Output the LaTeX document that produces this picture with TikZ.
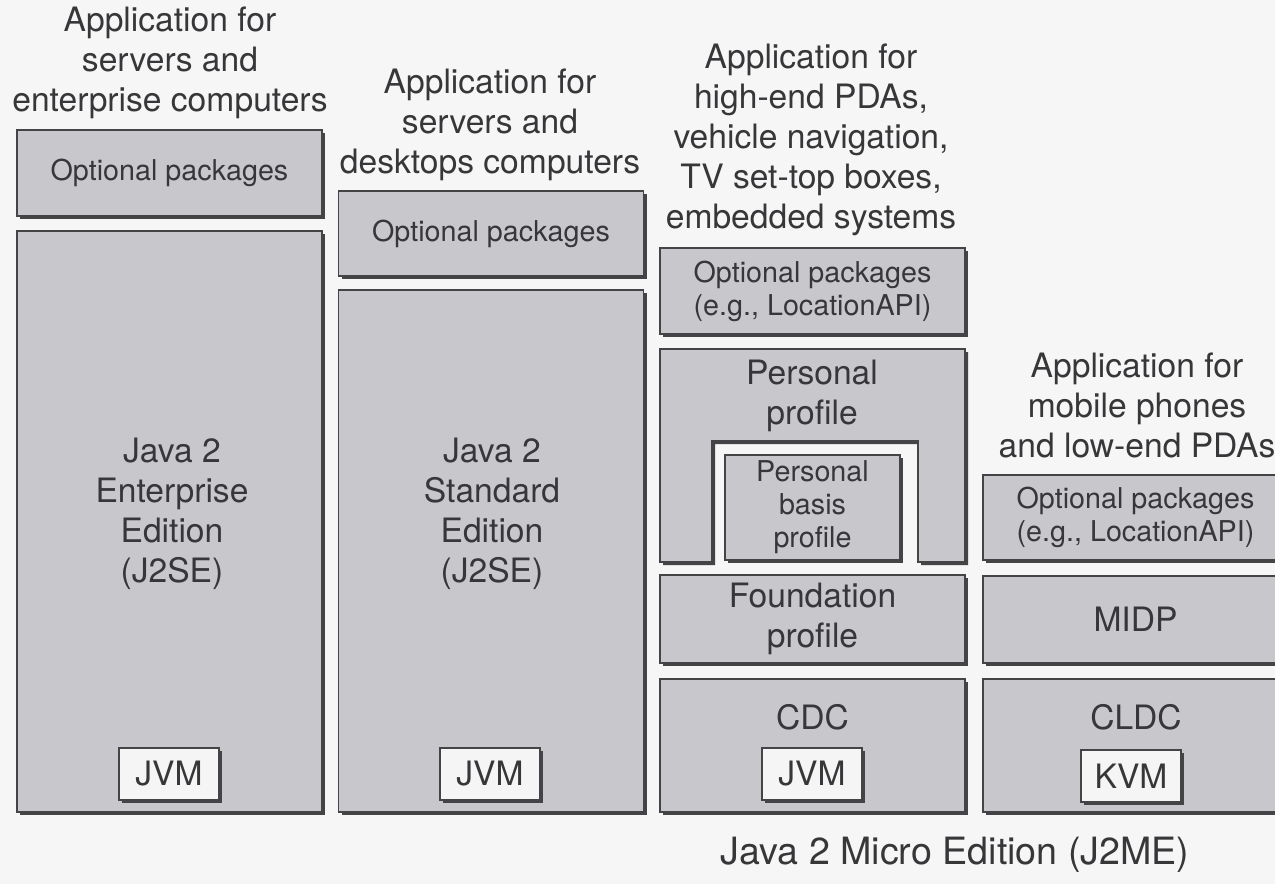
\documentclass[tikz,border=0pt]{standalone}
\usepackage{fontspec}
\setmainfont{TeX Gyre Heros}
\usetikzlibrary{shadows}
\definecolor{bgc}{RGB}{246,246,246}
\definecolor{boxc}{RGB}{200,200,204}
\definecolor{edgec}{RGB}{68,68,70}
\definecolor{txtc}{RGB}{55,55,58}
\definecolor{vmc}{RGB}{245,245,245}
\newcommand\BigTxt{\fontsize{16.8}{20}\selectfont}
\newcommand\SmallTxt{\fontsize{14.35}{16.5}\selectfont}
\newcommand\LabelTxt{\fontsize{18.8}{22}\selectfont}
\tikzset{
  layer/.style={rectangle, inner sep=0pt, fill=boxc, draw=edgec, line width=0.7pt,
    text=txtc, align=center, font=\SmallTxt,
    drop shadow={shadow xshift=1.5pt, shadow yshift=-1.5pt, fill=edgec, opacity=1}},
  biglayer/.style={layer, font=\BigTxt},
  vm/.style={layer, fill=vmc, font=\BigTxt, minimum width=50pt, minimum height=26pt},
  title/.style={text=txtc, align=center, font=\BigTxt, inner sep=0pt},
  colw/.style={minimum width=152.5pt}
}
\begin{document}
\begin{tikzpicture}[x=0.5pt,y=-0.5pt]
\path[use as bounding box] (0,0) rectangle (1275,884);
\clip (0,0) rectangle (1275,884);
\fill[bgc] (0,0) rectangle (1275,884);

% titles
\node[title] (t1) at (170,63) {Application for\\servers and\\enterprise computers};
\node[title] (t2) at (490,125) {Application for\\servers and\\desktops computers};
\node[title] (t3) at (811,140) {Application for\\high-end PDAs,\\vehicle navigation,\\TV set-top boxes,\\embedded systems};
\node[title] (t4) at (1137,405) {Application for\\mobile phones\\and low-end PDAs};

% column 1: J2EE
\node[layer, colw, minimum height=43pt] (opt1) at (169.5,173) {Optional packages};
\node[layer, colw, minimum height=290.5pt] (j2ee) at (169.5,521.5) {};
\node[title] (j2eet) at (172,514) {Java 2\\Enterprise\\Edition\\(J2SE)};
\node[vm] (jvm1) at (169,774) {JVM};

% column 2: J2SE
\node[layer, colw, minimum height=42.5pt] (opt2) at (491,233.5) {Optional packages};
\node[layer, colw, minimum height=261pt] (j2se) at (491,551) {};
\node[title] (j2set) at (492,514) {Java 2\\Standard\\Edition\\(J2SE)};
\node[vm] (jvm2) at (490,774) {JVM};

% column 3: CDC
\node[layer, colw, minimum height=43pt] (opt3) at (812.5,291) {Optional packages\\(e.g., LocationAPI)};
\fill[edgec, shift={(3,3)}] (660,349) -- (965,349) -- (965,562) -- (918,562) -- (918,441)
  -- (712,441) -- (712,562) -- (660,562) -- cycle;
\filldraw[fill=boxc, draw=edgec, line width=0.7pt] (660,349) -- (965,349) -- (965,562) -- (918,562)
  -- (918,441) -- (712,441) -- (712,562) -- (660,562) -- cycle;
\node[title] (pp) at (812,395.5) {Personal\\profile};
\node[layer, minimum width=87.5pt, minimum height=52.5pt] (pbp) at (812.5,507.5) {Personal\\basis\\profile};
\node[biglayer, colw, minimum height=44pt] (fp) at (812.5,619) {Foundation\\profile};
\node[layer, colw, minimum height=66.5pt] (cdc) at (812.5,745.5) {};
\node[title] (cdct) at (812.5,717) {CDC};
\node[vm] (jvm3) at (812,774) {JVM};

% column 4: CLDC
\node[layer, colw, minimum height=42.5pt] (opt4) at (1135.5,517.5) {Optional packages\\(e.g., LocationAPI)};
\node[biglayer, colw, minimum height=43.5pt] (midp) at (1135.5,619.5) {MIDP};
\node[layer, colw, minimum height=66.5pt] (cldc) at (1135.5,745.5) {};
\node[title] (cldct) at (1136,717) {CLDC};
\node[vm] (kvm) at (1131,776) {KVM};

\node[title, font=\LabelTxt] (j2me) at (955,855) {Java 2 Micro Edition (J2ME)};
\end{tikzpicture}
\end{document}
